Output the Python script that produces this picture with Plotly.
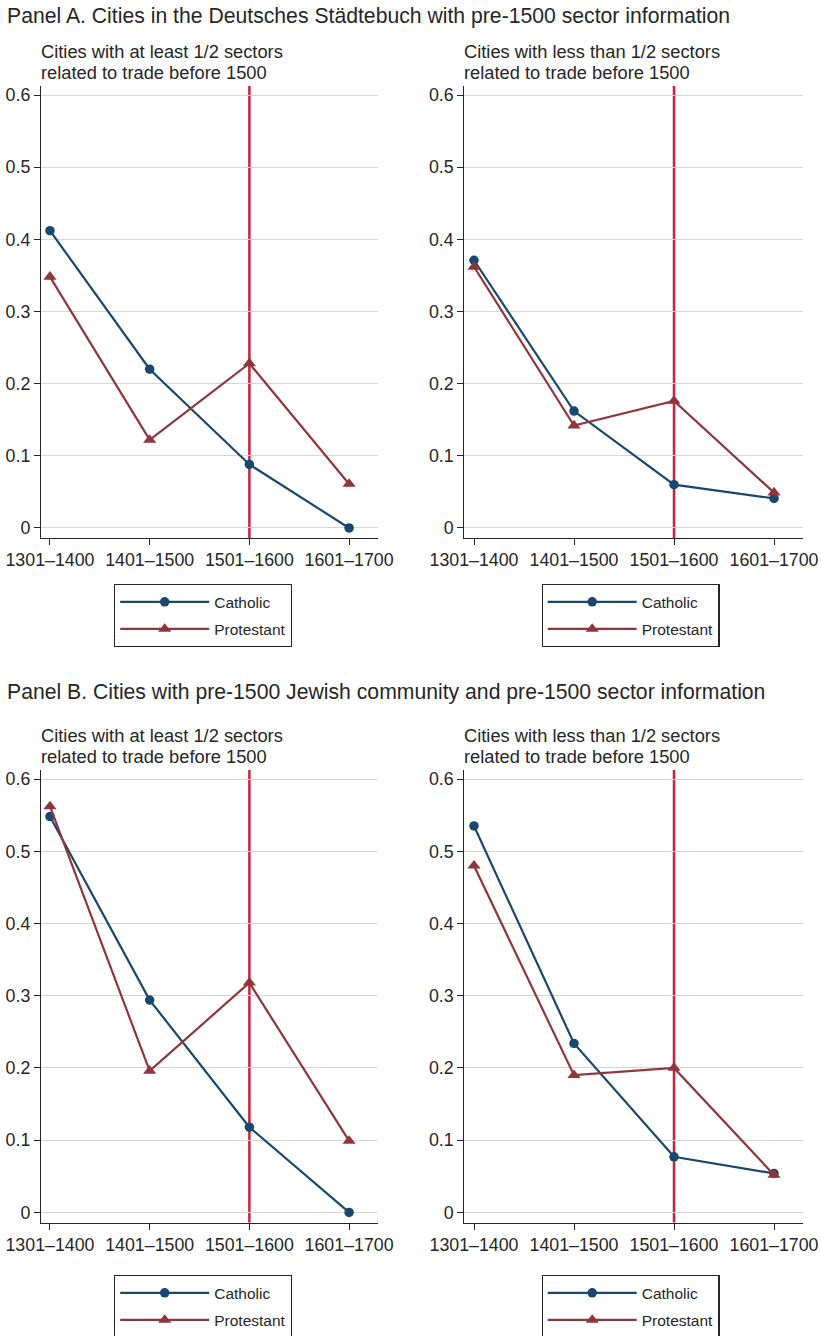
import plotly.graph_objects as go

W, H = 821, 1336

periods = ["1301–1400", "1401–1500", "1501–1600", "1601–1700"]
reform_period = "1501–1600"
y_ticks = [0, 0.1, 0.2, 0.3, 0.4, 0.5, 0.6]
y_tick_labels = ["0", "0.1", "0.2", "0.3", "0.4", "0.5", "0.6"]

# Panel A (Deutsches Städtebuch, pre-1500 sector information)
a_trade_catholic = [0.412, 0.220, 0.088, 0.000]
a_trade_protestant = [0.348, 0.122, 0.228, 0.061]
a_notrade_catholic = [0.371, 0.162, 0.060, 0.041]
a_notrade_protestant = [0.362, 0.142, 0.176, 0.049]

# Panel B (pre-1500 Jewish community and pre-1500 sector information)
b_trade_catholic = [0.548, 0.294, 0.118, 0.000]
b_trade_protestant = [0.562, 0.196, 0.318, 0.099]
b_notrade_catholic = [0.535, 0.234, 0.077, 0.054]
b_notrade_protestant = [0.480, 0.190, 0.200, 0.052]

panel_titles = [
    "Panel A. Cities in the Deutsches Städtebuch with pre-1500 sector information",
    "Panel B. Cities with pre-1500 Jewish community and pre-1500 sector information",
]
sub_titles = [
    ["Cities with at least 1/2 sectors", "related to trade before 1500"],
    ["Cities with less than 1/2 sectors", "related to trade before 1500"],
]
series_names = ["Catholic", "Protestant"]

NAVY = "#1A476F"
MAROON = "#90353B"
RED = "#C8233C"
TXT = "#262626"
GRID = "#D6D6D6"
FONT = "Liberation Sans, Arial, sans-serif"

panels = [
    (a_trade_catholic, a_trade_protestant),
    (a_notrade_catholic, a_notrade_protestant),
    (b_trade_catholic, b_trade_protestant),
    (b_notrade_catholic, b_notrade_protestant),
]


def px_x(v):
    return v / W


def px_y(v):
    return (H - v) / H


# pixel layout of the four plot areas: (left, right, top, bottom)
boxes = [
    (41, 378, 86, 538),
    (464.3, 802.7, 86, 538),
    (41, 378, 770, 1222.5),
    (464.3, 802.7, 770, 1222.5),
]
legend_boxes = [(114, 584), (541.5, 584), (114, 1275), (541.5, 1275)]
xranges = [[-0.09, 3.29], [-0.097, 3.287], [-0.09, 3.29], [-0.097, 3.287]]

fig = go.Figure()
xi = list(range(len(periods)))

for k, (cath, prot) in enumerate(panels):
    suffix = "" if k == 0 else str(k + 1)
    leg = "legend" + suffix
    fig.add_trace(go.Scatter(
        x=xi, y=cath, mode="lines+markers", name=series_names[0],
        line=dict(color=NAVY, width=2.2),
        marker=dict(symbol="circle", size=9.5, color=NAVY),
        xaxis="x" + suffix, yaxis="y" + suffix, legend=leg,
        legendgroup="c" + suffix,
    ))
    fig.add_trace(go.Scatter(
        x=xi, y=prot, mode="lines+markers", name=series_names[1],
        line=dict(color=MAROON, width=2.2),
        marker=dict(symbol="triangle-up", size=11.5, color=MAROON),
        xaxis="x" + suffix, yaxis="y" + suffix, legend=leg,
        legendgroup="p" + suffix,
    ))

layout = dict(
    width=W, height=H,
    margin=dict(l=0, r=0, t=0, b=0, autoexpand=False),
    paper_bgcolor="white", plot_bgcolor="white",
    font=dict(family=FONT, color=TXT, size=16),
    shapes=[], annotations=[],
)

for k in range(4):
    suffix = "" if k == 0 else str(k + 1)
    l, r, t, b = boxes[k]
    layout["xaxis" + suffix] = dict(
        domain=[px_x(l), px_x(r)], range=xranges[k],
        anchor="y" + suffix, automargin=False,
        tickvals=xi, ticktext=periods,
        ticks="outside", ticklen=6, tickcolor=TXT, tickwidth=1,
        showline=True, linecolor=TXT, linewidth=1.2,
        showgrid=False, zeroline=False,
        tickfont=dict(size=17.8, color=TXT, family=FONT),
    )
    layout["yaxis" + suffix] = dict(
        domain=[px_y(b), px_y(t)], range=[-0.0139, 0.6125],
        anchor="x" + suffix, automargin=False,
        tickvals=y_ticks, ticktext=y_tick_labels,
        ticks="outside", ticklen=6, tickcolor=TXT, tickwidth=1,
        showline=True, linecolor=TXT, linewidth=1.2,
        showgrid=True, gridcolor=GRID, gridwidth=1.2, zeroline=False,
        tickfont=dict(size=17.8, color=TXT, family=FONT),
    )
    layout["shapes"].append(dict(
        type="line", xref="x" + suffix, yref="y" + suffix + " domain",
        x0=periods.index(reform_period), x1=periods.index(reform_period),
        y0=0, y1=1, line=dict(color=RED, width=2.5), layer="below",
    ))
    lx, ly = legend_boxes[k]
    layout["legend" + suffix] = dict(
        x=px_x(lx), y=px_y(ly), xanchor="left", yanchor="top",
        xref="paper", yref="paper",
        bordercolor=TXT, borderwidth=1.2, bgcolor="white",
        font=dict(size=15.5, color=TXT, family=FONT),
        itemwidth=89, tracegroupgap=4, traceorder="grouped",
    )
    sub = sub_titles[k % 2]
    layout["annotations"].append(dict(
        text=sub[0], xref="paper", yref="paper", x=px_x(l - 2), y=px_y(t - 35),
        xanchor="left", yanchor="middle", showarrow=False,
        font=dict(size=18.3, color=TXT, family=FONT),
    ))
    layout["annotations"].append(dict(
        text=sub[1], xref="paper", yref="paper", x=px_x(l - 2), y=px_y(t - 13),
        xanchor="left", yanchor="middle", showarrow=False,
        font=dict(size=18.3, color=TXT, family=FONT),
    ))

title_y = [16, 692]
for j, ttl in enumerate(panel_titles):
    layout["annotations"].append(dict(
        text=ttl, xref="paper", yref="paper", x=px_x(5), y=px_y(title_y[j]),
        xanchor="left", yanchor="middle", showarrow=False,
        font=dict(size=21.2, color=TXT, family=FONT),
    ))

fig.update_layout(**layout)
fig.write_html(
    "out.html",
    config={"displayModeBar": False},
    post_script="document.body.style.margin='0';document.body.style.overflow='hidden';",
)
